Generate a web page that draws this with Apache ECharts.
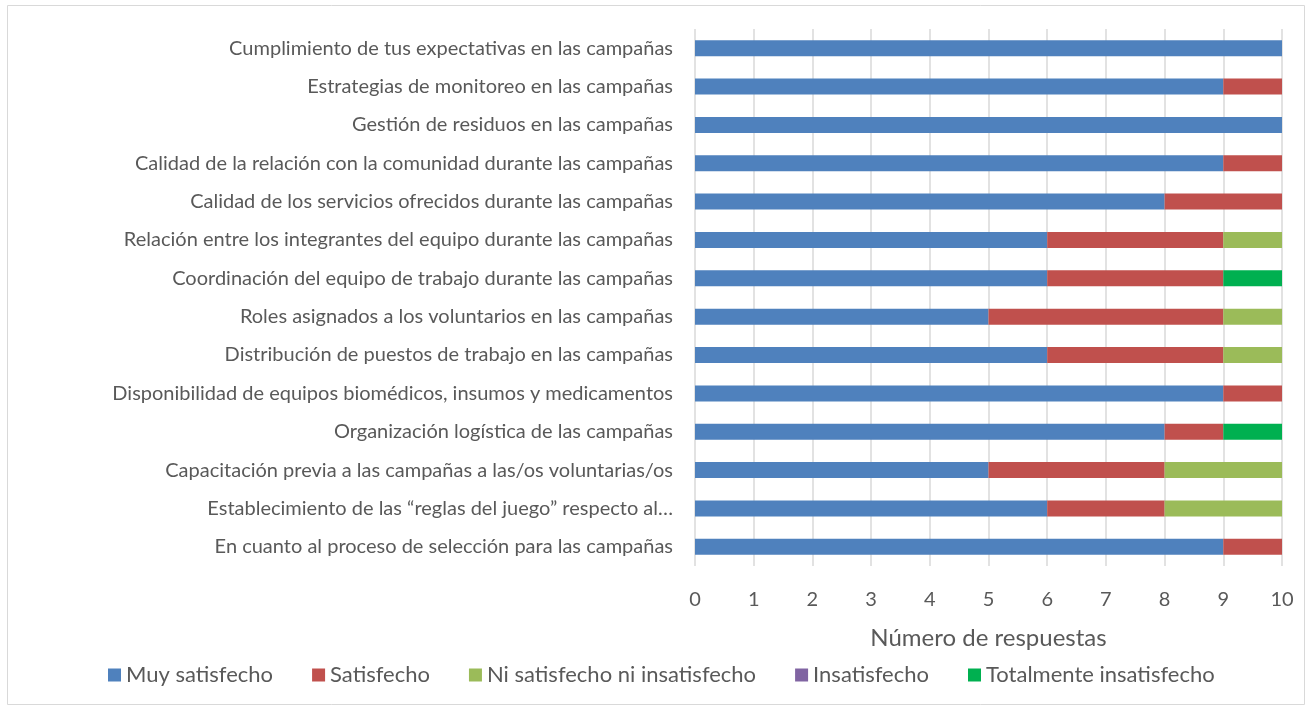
<!DOCTYPE html>
<html>
<head>
<meta charset="utf-8">
<script src="https://cdn.jsdelivr.net/npm/echarts@6/dist/echarts.min.js"></script>
<style>
html, body { margin: 0; padding: 0; background: #fff; }
#chart1 { width: 1312px; height: 713px; }
</style>
</head>
<body>
<div id="chart1"></div>
<script>
// categories, bottom to top (as the category axis draws them)
var categories = [
    'En cuanto al proceso de selección para las campañas',
    'Establecimiento de las “reglas del juego” respecto al…',
    'Capacitación previa a las campañas a las/os voluntarias/os',
    'Organización logística de las campañas',
    'Disponibilidad de equipos biomédicos, insumos y medicamentos',
    'Distribución de puestos de trabajo en las campañas',
    'Roles asignados a los voluntarios en las campañas',
    'Coordinación del equipo de trabajo durante las campañas',
    'Relación entre los integrantes del equipo durante las campañas',
    'Calidad de los servicios ofrecidos durante las campañas',
    'Calidad de la relación con la comunidad durante las campañas',
    'Gestión de residuos en las campañas',
    'Estrategias de monitoreo en las campañas',
    'Cumplimiento de tus expectativas en las campañas'
];
var muySatisfecho   = [9, 6, 5, 8, 9, 6, 5, 6, 6, 8, 9, 10, 9, 10];
var satisfecho      = [1, 2, 3, 1, 1, 3, 4, 3, 3, 2, 1, 0, 1, 0];
var niSatisfecho    = [0, 2, 2, 0, 0, 1, 1, 0, 1, 0, 0, 0, 0, 0];
var insatisfecho    = [0, 0, 0, 0, 0, 0, 0, 0, 0, 0, 0, 0, 0, 0];
var totalmenteInsat = [0, 0, 0, 1, 0, 0, 0, 1, 0, 0, 0, 0, 0, 0];
var seriesNames = ['Muy satisfecho', 'Satisfecho', 'Ni satisfecho ni insatisfecho', 'Insatisfecho', 'Totalmente insatisfecho'];
var xTicks = [0, 10, 1]; // min, max, interval

var font = 'Lato, "Open Sans", sans-serif';
var textColor = '#595959';

var Chart1 = echarts.init(document.getElementById('chart1'));

function makeSeries(name, data) {
    return {
        name: name,
        type: 'bar',
        stack: 'total',
        barWidth: 16,
        data: data
    };
}

var option1 = {
    animation: false,
    color: ['#4F81BD', '#C0504D', '#9BBB59', '#8064A2', '#00B050'],
    textStyle: { fontFamily: font },
    graphic: [{
        type: 'rect',
        shape: { x: 7.5, y: 5.5, width: 1297, height: 699 },
        style: { fill: 'none', stroke: '#d9d9d9', lineWidth: 1 },
        silent: true
    }],
    grid: {
        top: 29,
        left: 695,
        right: 30,
        bottom: 147
    },
    legend: {
        data: seriesNames,
        bottom: 22,
        left: 103,
        icon: 'rect',
        itemWidth: 13,
        itemHeight: 13,
        itemGap: 39,
        textStyle: { fontSize: 22, color: textColor, fontFamily: font }
    },
    xAxis: {
        type: 'value',
        min: xTicks[0],
        max: xTicks[1],
        interval: xTicks[2],
        name: 'Número de respuestas',
        nameLocation: 'middle',
        nameGap: 60,
        nameTextStyle: { fontSize: 24, color: textColor, fontFamily: font },
        axisLine: { show: false },
        axisTick: { show: false },
        axisLabel: { fontSize: 20, color: textColor, margin: 24, fontFamily: font },
        splitLine: { lineStyle: { color: '#d9d9d9', width: 1.5 } }
    },
    yAxis: {
        type: 'category',
        data: categories,
        axisLine: { show: false },
        axisTick: { show: false },
        axisLabel: { fontSize: 20, color: textColor, margin: 22, fontFamily: font }
    },
    series: [
        makeSeries(seriesNames[0], muySatisfecho),
        makeSeries(seriesNames[1], satisfecho),
        makeSeries(seriesNames[2], niSatisfecho),
        makeSeries(seriesNames[3], insatisfecho),
        makeSeries(seriesNames[4], totalmenteInsat)
    ]
};

Chart1.setOption(option1);
</script>
</body>
</html>
